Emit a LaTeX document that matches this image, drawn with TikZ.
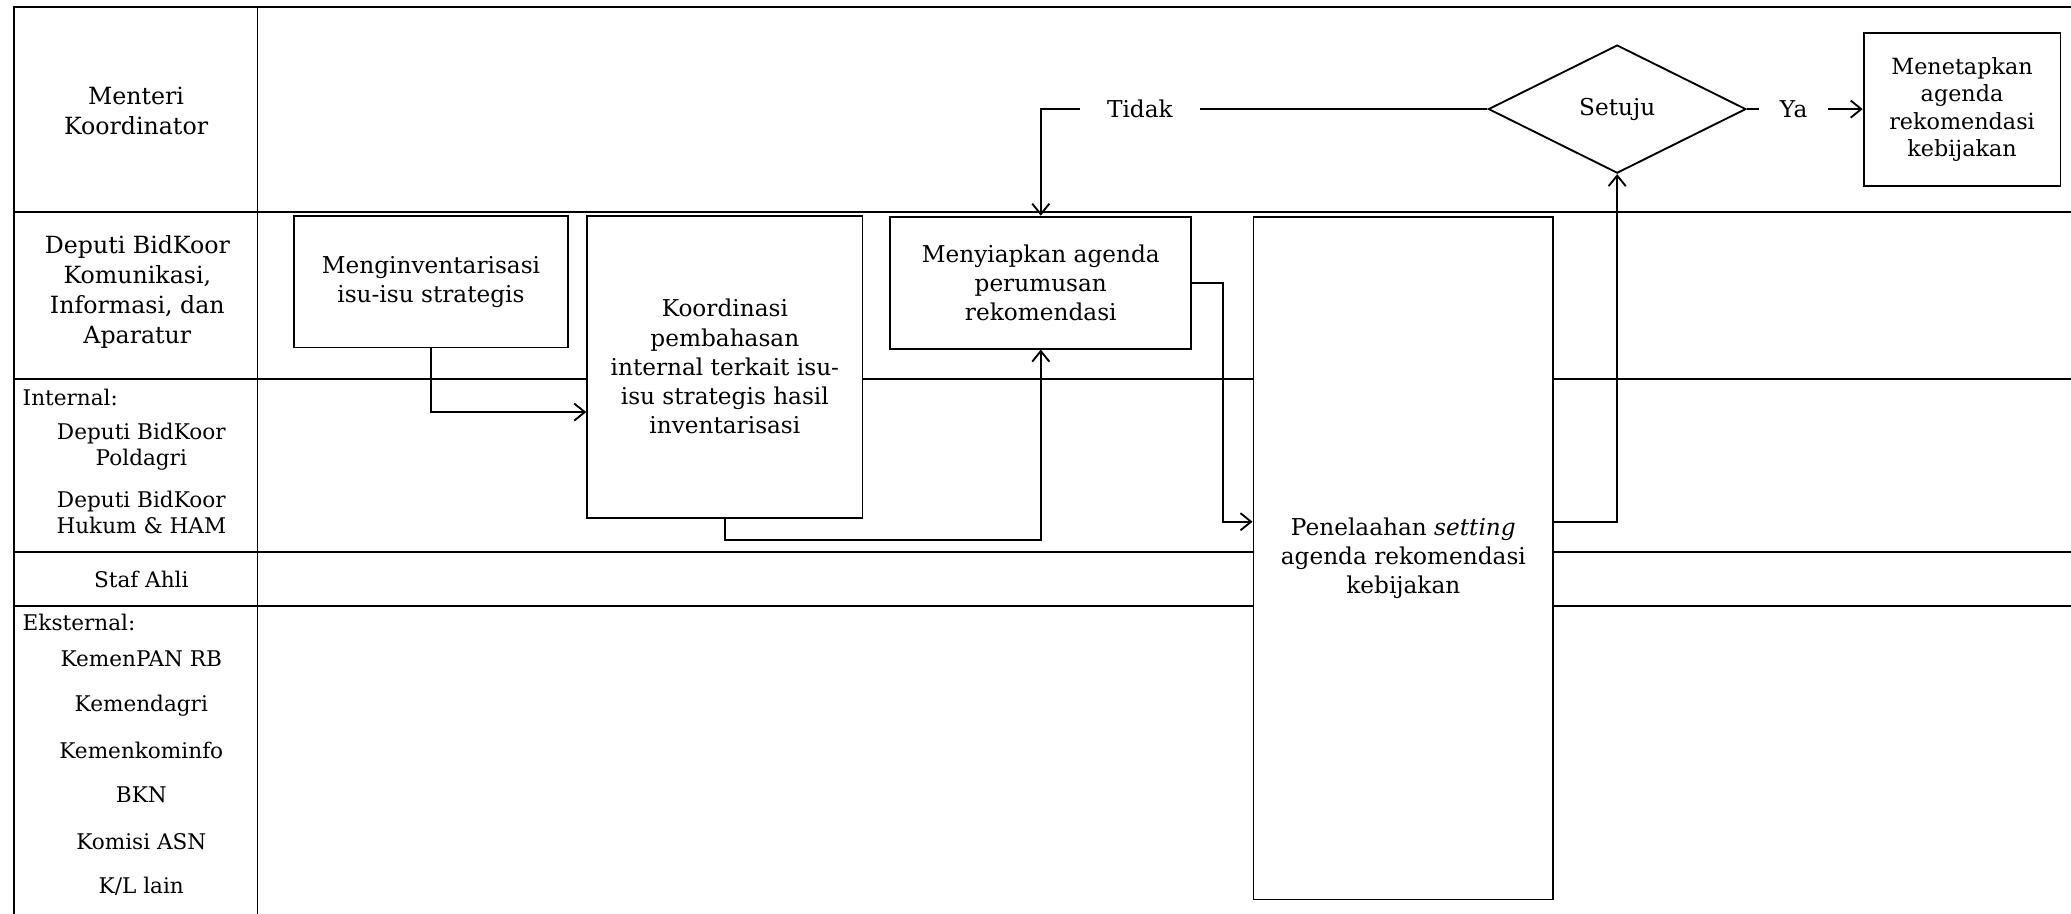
\documentclass[tikz,border=0pt]{standalone}
\usepackage{fontspec}
\setmainfont{DejaVu Serif}
\usetikzlibrary{arrows.meta,shapes.geometric}

\begin{document}
\begin{tikzpicture}[x=0.2mm,y=-0.2mm,every node/.style={font=\fontsize{10}{12.6}\selectfont},
  box/.style={draw,line width=0.8pt,fill=white,align=center,inner sep=2pt},
  head/.style={align=center,font=\fontsize{10.2}{13}\selectfont},
  lbl/.style={align=center,font=\fontsize{9.3}{11.3}\selectfont},
  lane/.style={line width=0.8pt},
  lnk/.style={line width=0.8pt},
  arr/.style={line width=0.8pt,-{Straight Barb[length=1.6mm,width=2.6mm]}}]
  \useasboundingbox (0,0) rectangle (1568,692);
  % swimlanes
  \draw[lane] (10.5,692) -- (10.5,5.5) -- (1568,5.5);
  \draw[lane] (195,5.5) -- (195,692);
  \draw[lane] (10.5,160.5) -- (1568,160.5);
  \draw[lane] (10.5,287) -- (1568,287);
  \draw[lane] (10.5,418) -- (1568,418);
  \draw[lane] (10.5,459) -- (1568,459);
  % lane names
  \node[head] (menko) at (103,84) {Menteri\\Koordinator};
  \node[head] (deputi) at (104,221) {Deputi BidKoor\\Komunikasi,\\Informasi, dan\\Aparatur};
  \node[lbl,anchor=west] (internal) at (11,301) {Internal:};
  \node[lbl] (poldagri) at (107,338) {Deputi BidKoor\\Poldagri};
  \node[lbl] (hukum) at (107,388) {Deputi BidKoor\\Hukum \& HAM};
  \node[lbl] (staf) at (107,439) {Staf Ahli};
  \node[lbl,anchor=west] (eksternal) at (11,471.5) {Eksternal:};
  \node[lbl] (kemenpan) at (107,499) {KemenPAN RB};
  \node[lbl] (kemendagri) at (107,534) {Kemendagri};
  \node[lbl] (kominfo) at (107,568) {Kemenkominfo};
  \node[lbl] (bkn) at (107,602) {BKN};
  \node[lbl] (kasn) at (107,637) {Komisi ASN};
  \node[lbl] (kl) at (107,671) {K/L lain};
  % steps
  \node[box,minimum width=41.5mm,minimum height=19.9mm] (inv) at (326.3,213.3) {Menginventarisasi\\isu-isu strategis};
  \node[box,minimum width=41.7mm,minimum height=45.7mm] (koord) at (548.8,277.7) {Koordinasi\\pembahasan\\internal terkait isu-\\isu strategis hasil\\inventarisasi};
  \node[box,minimum width=45.6mm,minimum height=20mm] (siap) at (788,214) {Menyiapkan agenda\\perumusan\\rekomendasi};
  \node[box,minimum width=45.4mm,minimum height=103.4mm] (pen) at (1062.5,422.5) {Penelaahan \textit{setting}\\agenda rekomendasi\\kebijakan};
  \node[box,diamond,aspect=2,inner sep=0pt,minimum width=39mm,minimum height=19.4mm] (setuju) at (1224.4,82.6) {Setuju};
  \node[box,minimum width=29.8mm,minimum height=23.2mm,font=\fontsize{9.6}{11.8}\selectfont] (tetap) at (1485.5,83) {Menetapkan\\agenda\\rekomendasi\\kebijakan};
  \node[inner sep=0pt,minimum width=18mm] (tidak) at (863,82.6) {Tidak};
  \node[inner sep=0pt,minimum width=10.4mm] (ya) at (1358,82.6) {Ya};
  % flow
  \draw[arr] (inv.south) |- (koord.west |- 0,312);
  \draw[arr] (koord.south) -- ++(0,16) -| (siap.south);
  \draw[arr] (siap.east) -- ++(23,0) |- (pen.west |- 0,395);
  \draw[arr] (pen.east |- 0,395) -| (setuju.south);
  \draw[lnk] (setuju.west) -- (tidak);
  \draw[arr] (tidak) -| (siap.north);
  \draw[lnk] (setuju.east) -- (ya);
  \draw[arr] (ya) -- (ya -| tetap.west);
\end{tikzpicture}
\end{document}
